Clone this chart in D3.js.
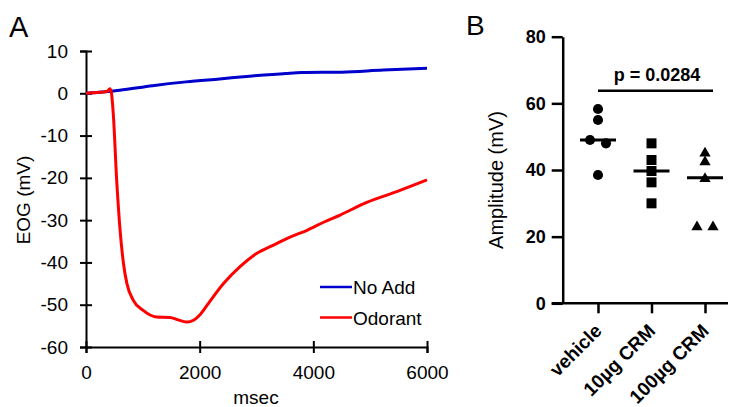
<!DOCTYPE html>
<html><head><meta charset="utf-8">
<script src="https://cdn.jsdelivr.net/npm/d3@7"></script>
<style>
html,body{margin:0;padding:0;background:#fff;}
svg{display:block;font-family:"Liberation Sans",Arial,sans-serif;}
</style></head>
<body>
<svg id="chart" width="730" height="407"></svg>
<script>
// ---------- Panel A data ----------
const eogXTicks = [0, 2000, 4000, 6000];
const eogYTicks = [10, 0, -10, -20, -30, -40, -50, -60];
const noAddTime  = [0, 590, 1170, 1760, 2350, 2930, 3520, 3800, 4500, 5230, 6000];
const noAddValue = [0, 0.7, 1.8, 2.7, 3.4, 4.1, 4.7, 4.9, 5.0, 5.5, 5.9];
const odorantTime  = [0, 100, 200, 300, 380, 420, 445, 480, 540, 600, 660, 720, 830, 1000, 1240, 1480, 1600, 1770, 1900, 2010, 2180, 2420, 2710, 3000, 3300, 3590, 3890, 4180, 4470, 4940, 5480, 6000];
const odorantValue = [0, 0.1, 0.2, 0.3, 0.5, 1.1, 0.3, -4.8, -20.6, -32.4, -40.3, -45, -48.9, -51.3, -52.9, -53, -53.5, -54.1, -53.6, -52.3, -49.2, -45, -41, -37.9, -35.9, -34, -32.4, -30.5, -28.8, -25.8, -23.2, -20.5];
const seriesNames = ["No Add", "Odorant"];

// ---------- Panel B data ----------
const groups = ["vehicle", "10\u00b5g CRM", "100\u00b5g CRM"];
const vehicleAmp = [58.3, 55.0, 49.0, 48.0, 38.5];
const crm10Amp   = [48.0, 43.0, 39.7, 36.3, 30.0];
const crm100Amp  = [45.3, 42.7, 37.7, 23.2, 23.2];
const ampTicks = [0, 20, 40, 60, 80];
const pLabel = "p = 0.0284";

const svg = d3.select("#chart");
const FONT = '"Liberation Sans",Arial,sans-serif';

// ================= Panel A =================
const xA = d3.scaleLinear().domain([0, 6000]).range([86, 427]);
const yA = d3.scaleLinear().domain([-60, 10]).range([347, 51]);
const gA = svg.append("g");

const yAxisA = gA.append("g").attr("transform", `translate(${xA(0)},0)`)
  .call(d3.axisLeft(yA).tickValues(eogYTicks).tickSize(6).tickPadding(12).tickFormat(d => String(d)));
yAxisA.selectAll(".tick line").attr("x1", 6).attr("x2", -6);
const xAxisA = gA.append("g").attr("transform", `translate(0,${yA(-60)})`)
  .call(d3.axisBottom(xA).tickValues(eogXTicks).tickSize(6).tickPadding(13).tickFormat(d => String(d)));
xAxisA.selectAll(".tick line").attr("y1", -6).attr("y2", 6);
[yAxisA, xAxisA].forEach(a => {
  a.selectAll("path.domain").attr("stroke", "#000").attr("stroke-width", 2);
  a.selectAll(".tick line").attr("stroke", "#000").attr("stroke-width", 2);
  a.selectAll("text").attr("font-size", 19).attr("font-family", FONT).attr("fill", "#000");
});

const lineA = d3.line().x(d => xA(d[0])).y(d => yA(d[1])).curve(d3.curveMonotoneX);
const noAdd = noAddTime.map((t, i) => [t, noAddValue[i]]);
const odorant = odorantTime.map((t, i) => [t, odorantValue[i]]);
const colorsA = ["#0000cc", "#ff0000"];
gA.append("path").datum(noAdd).attr("d", lineA).attr("fill", "none")
  .attr("stroke", colorsA[0]).attr("stroke-width", 3);
gA.append("path").datum(odorant).attr("d", lineA).attr("fill", "none")
  .attr("stroke", colorsA[1]).attr("stroke-width", 3);

// legend
const leg = gA.append("g");
seriesNames.forEach((name, i) => {
  const y = 287 + i * 30.5;
  leg.append("line").attr("x1", 320).attr("x2", 352).attr("y1", y).attr("y2", y)
    .attr("stroke", colorsA[i]).attr("stroke-width", 2.5);
  leg.append("text").attr("x", 353).attr("y", y + 7).attr("font-size", 19)
    .attr("font-family", FONT).attr("fill", "#000").text(name);
});

gA.append("text").attr("x", 9).attr("y", 37).attr("font-size", 29).attr("font-family", FONT).text("A");
gA.append("text").attr("transform", "translate(30,200) rotate(-90)").attr("text-anchor", "middle")
  .attr("font-size", 19).attr("font-family", FONT).text("EOG (mV)");
gA.append("text").attr("x", 256).attr("y", 404).attr("text-anchor", "middle")
  .attr("font-size", 19).attr("font-family", FONT).text("msec");

// ================= Panel B =================
const xB = d3.scalePoint().domain(groups).range([598, 705]);
const yB = d3.scaleLinear().domain([0, 80]).range([303.3, 36.7]);
const gB = svg.append("g");
const xLeftB = 562.7;

const yAxisB = gB.append("g").attr("transform", `translate(${xLeftB},0)`)
  .call(d3.axisLeft(yB).tickValues(ampTicks).tickSize(11).tickPadding(6).tickSizeOuter(0));
yAxisB.selectAll("path.domain").attr("stroke", "#000").attr("stroke-width", 2.5);
yAxisB.selectAll(".tick line").attr("stroke", "#000").attr("stroke-width", 2.5);
yAxisB.selectAll("text").attr("font-size", 18).attr("font-weight", "bold")
  .attr("font-family", FONT).attr("fill", "#000");

const xAxisB = gB.append("g").attr("transform", `translate(0,${yB(0)})`)
  .call(d3.axisBottom(xB).tickSize(10).tickFormat(""));
xAxisB.select("path.domain").remove();
xAxisB.selectAll(".tick line").attr("stroke", "#000").attr("stroke-width", 2.5);
gB.append("line").attr("x1", xLeftB - 11).attr("x2", 728).attr("y1", yB(0)).attr("y2", yB(0))
  .attr("stroke", "#000").attr("stroke-width", 2.5);

// category labels
groups.forEach(g => {
  gB.append("text").attr("transform", `translate(${xB(g) + 5},332) rotate(-45)`)
    .attr("text-anchor", "end").attr("font-size", 19).attr("font-weight", "bold")
    .attr("font-family", FONT).attr("fill", "#000").text(g);
});

// points with simple beeswarm spreading
const groupData = [vehicleAmp, crm10Amp, crm100Amp];
const symbols = [d3.symbolCircle, d3.symbolSquare, d3.symbolTriangle];
const sizes = [80, 100, 55];
groupData.forEach((vals, gi) => {
  const cx = xB(groups[gi]);
  const ys = vals.map(v => yB(v));
  const used = new Array(vals.length).fill(false);
  const offs = new Array(vals.length).fill(0);
  for (let i = 0; i < vals.length; i++) {
    if (used[i]) continue;
    const cluster = [i];
    for (let j = i + 1; j < vals.length; j++) if (!used[j] && Math.abs(ys[j] - ys[i]) < 6) cluster.push(j);
    cluster.forEach((k, n) => { used[k] = true; offs[k] = (n - (cluster.length - 1) / 2) * 16; });
  }
  vals.forEach((v, i) => {
    gB.append("path").attr("d", d3.symbol().type(symbols[gi]).size(sizes[gi])())
      .attr("transform", `translate(${cx + offs[i]},${yB(v) + (gi === 2 ? 1 : 0)})`).attr("fill", "#000");
  });
  const med = d3.median(vals);
  gB.append("line").attr("x1", cx - 18).attr("x2", cx + 18).attr("y1", yB(med)).attr("y2", yB(med))
    .attr("stroke", "#000").attr("stroke-width", 3);
});

// significance
gB.append("line").attr("x1", xB(groups[0])).attr("x2", xB(groups[2]) + 8).attr("y1", 90.7).attr("y2", 90.7)
  .attr("stroke", "#000").attr("stroke-width", 2.5);
gB.append("text").attr("x", 657).attr("y", 81).attr("text-anchor", "middle")
  .attr("font-size", 18).attr("font-weight", "bold").attr("font-family", FONT).text(pLabel);

gB.append("text").attr("x", 466).attr("y", 35).attr("font-size", 28).attr("font-family", FONT).text("B");
gB.append("text").attr("transform", "translate(503,180) rotate(-90)").attr("text-anchor", "middle")
  .attr("font-size", 20).attr("font-family", FONT).text("Amplitude (mV)");
</script>
</body></html>
